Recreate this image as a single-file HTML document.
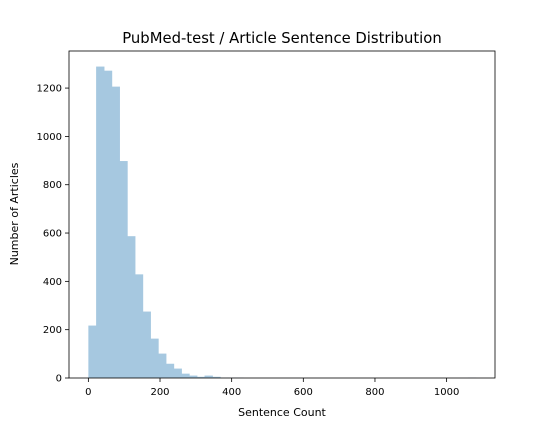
<!DOCTYPE html>
<html><head><meta charset="utf-8"><style>
body{margin:0;background:#fff;font-family:"Liberation Sans","DejaVu Sans",sans-serif;}
svg text{font-family:"DejaVu Sans","Liberation Sans",sans-serif;}
</style></head><body>
<svg id="chart" width="550" height="425" xmlns="http://www.w3.org/2000/svg">
<rect width="550" height="425" fill="#fff"/>
<g id="bars"></g>
<g id="axes"></g>
<text x="282" y="43" font-size="14.8" text-anchor="middle">PubMed-test / Article Sentence Distribution</text>
<text x="282" y="416" font-size="11" text-anchor="middle">Sentence Count</text>
<text transform="translate(18,214) rotate(-90)" font-size="11" text-anchor="middle">Number of Articles</text>
</svg>
<script>
const counts=[217,1289,1272,1206,898,587,429,275,163,101,59,39,18,10,5,10,5,1,1,1,0,0,0,0,0,0,0,0,0,0,0,0,0,0,0,0,0,0,0,0,0,0,0,0,0,0,0,0,0,1];
const dataMin=0, dataMax=1081;
const xTicks=[0,200,400,600,800,1000];
const yTicks=[0,200,400,600,800,1000,1200];
const L=69,R=495,T=51,B=378;
const span=dataMax-dataMin, xlo=dataMin-span*0.05, xhi=dataMax+span*0.05;
const ymax=Math.max(...counts)*1.05;
const X=v=>L+(v-xlo)/(xhi-xlo)*(R-L);
const Y=v=>B-v/ymax*(B-T);
const NS="http://www.w3.org/2000/svg";
const bars=document.getElementById('bars'), axes=document.getElementById('axes');
const bw=span/counts.length;
counts.forEach((c,i)=>{
 const r=document.createElementNS(NS,'rect');
 
 
 const x0=X(dataMin+i*bw), x1=X(dataMin+(i+1)*bw);
 r.setAttribute('x',x0);r.setAttribute('width',x1-x0+0.6);
 r.setAttribute('y',Y(c));r.setAttribute('height',B-Y(c));
 r.setAttribute('fill','#a6c8e0');
 bars.appendChild(r);
});
const frame=document.createElementNS(NS,'rect');


frame.setAttribute('x',L);frame.setAttribute('y',T);frame.setAttribute('width',R-L);frame.setAttribute('height',B-T);
frame.setAttribute('fill','none');frame.setAttribute('stroke','#000');frame.setAttribute('stroke-width','0.8');
axes.appendChild(frame);
xTicks.forEach(t=>{
 const l=document.createElementNS(NS,'line');
 
 
 l.setAttribute('x1',X(t));l.setAttribute('x2',X(t));l.setAttribute('y1',B);l.setAttribute('y2',B+4);l.setAttribute('stroke','#000');l.setAttribute('stroke-width','0.8');
 axes.appendChild(l);
 const tx=document.createElementNS(NS,'text');
 
 
 tx.setAttribute('x',X(t));tx.setAttribute('y',B+17);tx.setAttribute('font-size','10');tx.setAttribute('text-anchor','middle');
 tx.textContent=t;axes.appendChild(tx);
});
yTicks.forEach(t=>{
 const l=document.createElementNS(NS,'line');
 
 
 l.setAttribute('x1',L-4);l.setAttribute('x2',L);l.setAttribute('y1',Y(t));l.setAttribute('y2',Y(t));l.setAttribute('stroke','#000');l.setAttribute('stroke-width','0.8');
 axes.appendChild(l);
 const tx=document.createElementNS(NS,'text');
 
 
 tx.setAttribute('x',L-7);tx.setAttribute('y',Y(t)+3.5);tx.setAttribute('font-size','10');tx.setAttribute('text-anchor','end');
 tx.textContent=t;axes.appendChild(tx);
});
</script>
</body></html>
